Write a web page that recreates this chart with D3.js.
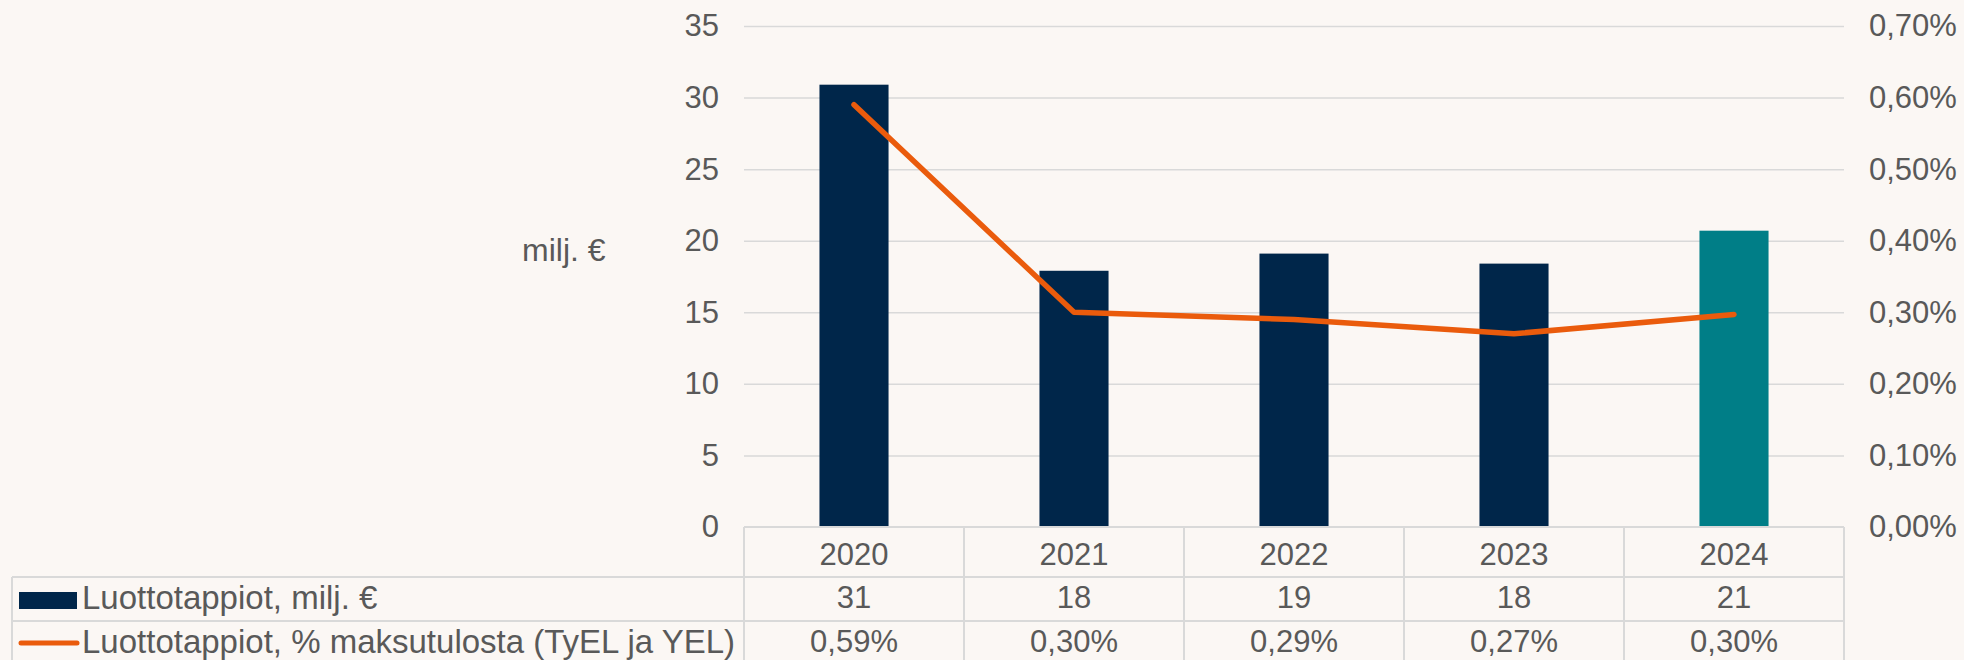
<!DOCTYPE html>
<html>
<head>
<meta charset="utf-8">
<script src="https://cdn.jsdelivr.net/npm/d3@7"></script>
<style>
  html, body { margin: 0; padding: 0; background: #fbf7f4; }
  svg { display: block; }
</style>
</head>
<body>
<div id="chart"></div>
<script>
// data
const years = ["2020", "2021", "2022", "2023", "2024"];
const losses = [30.9, 17.9, 19.1, 18.4, 20.7];          // milj. €
const lossShare = [0.59, 0.30, 0.29, 0.27, 0.297];      // % of premiums
const barColors = ["#00264a", "#00264a", "#00264a", "#00264a", "#007e87"];
const leftTicks = [0, 5, 10, 15, 20, 25, 30, 35];
const rightTicks = [0, 0.1, 0.2, 0.3, 0.4, 0.5, 0.6, 0.7];
const seriesNames = ["Luottotappiot, milj. €", "Luottotappiot, % maksutulosta (TyEL ja YEL)"];
const axisTitle = "milj. €";

function comboChart({ margin, height, width, selector }) {
    const fi = d3.formatLocale({ decimal: ",", thousands: " ", grouping: [3], currency: ["", " €"] });
    const fmtPct = v => fi.format(".2f")(v) + "%";
    const fmtInt = fi.format(".0f");

    const textColor = "#595959";
    const gridColor = "#d9d9d9";
    const fontSize = 31;

    let x = d3.scaleBand()
        .domain(years)
        .range([margin.left, width - margin.right])
        .paddingInner(0.686)
        .paddingOuter(0.343);

    let xCol = d3.scaleBand()
        .domain(years)
        .range([margin.left, width - margin.right]);

    let y = d3.scaleLinear()
        .domain([0, 35])
        .range([height - margin.bottom, margin.top]);

    let y2 = d3.scaleLinear()
        .domain([0, 0.7])
        .range([height - margin.bottom, margin.top]);

    const svg = d3.select(selector)
        .append("svg")
        .attr("width", width)
        .attr("height", height)
        .attr("font-family", "'Liberation Sans', Arial, sans-serif")
        .attr("font-size", fontSize);

    svg.append("rect")
        .attr("width", width)
        .attr("height", height)
        .attr("fill", "#fbf7f4");

    // gridlines
    svg.append("g")
        .attr("transform", `translate(${margin.left},0)`)
        .call(d3.axisRight(y).tickValues(leftTicks.slice(1)).tickSize(width - margin.left - margin.right).tickFormat(""))
        .call(g => g.select(".domain").remove())
        .call(g => g.selectAll(".tick line").attr("stroke", gridColor).attr("stroke-width", 1.5));

    // left axis labels
    svg.append("g")
        .attr("transform", `translate(${margin.left - 25},0)`)
        .call(d3.axisLeft(y).tickValues(leftTicks).tickSize(0).tickPadding(0))
        .call(g => g.select(".domain").remove())
        .call(g => g.selectAll("text").attr("fill", textColor).attr("font-size", fontSize).attr("font-family", null));

    // right axis labels
    svg.append("g")
        .attr("transform", `translate(${width - margin.right + 25},0)`)
        .call(d3.axisRight(y2).tickValues(rightTicks).tickSize(0).tickPadding(0).tickFormat(fmtPct))
        .call(g => g.select(".domain").remove())
        .call(g => g.selectAll("text").attr("fill", textColor).attr("font-size", fontSize).attr("font-family", null));

    svg.append("text")
        .attr("x", 522)
        .attr("y", 261)
        .attr("fill", textColor)
        .attr("font-size", 32)
        .text(axisTitle);

    // bars
    svg.append("g")
        .selectAll("rect")
        .data(losses)
        .join("rect")
        .attr("x", (d, i) => x(years[i]))
        .attr("y", d => y(d))
        .attr("width", x.bandwidth())
        .attr("height", d => y(0) - y(d))
        .attr("fill", (d, i) => barColors[i]);

    // line
    const line = d3.line()
        .x((d, i) => xCol(years[i]) + xCol.bandwidth() / 2)
        .y(d => y2(d));

    svg.append("path")
        .datum(lossShare)
        .attr("d", line)
        .attr("fill", "none")
        .attr("stroke", "#ea5b0c")
        .attr("stroke-width", 5.5)
        .attr("stroke-linejoin", "round")
        .attr("stroke-linecap", "round");

    // data table
    const top = y(0);
    const rows = [top, top + 50, top + 94, top + 140];
    const left = 12;
    const right = width - margin.right;
    const table = svg.append("g")
        .attr("stroke", gridColor)
        .attr("stroke-width", 2);

    table.append("line").attr("x1", margin.left).attr("x2", right).attr("y1", rows[0]).attr("y2", rows[0]);
    table.selectAll("line.h")
        .data(rows.slice(1))
        .join("line")
        .attr("class", "h")
        .attr("x1", left).attr("x2", right)
        .attr("y1", d => d).attr("y2", d => d);
    table.append("line").attr("x1", left).attr("x2", left).attr("y1", rows[1]).attr("y2", rows[3]);
    table.selectAll("line.v")
        .data(years.concat(["end"]))
        .join("line")
        .attr("class", "v")
        .attr("x1", d => d === "end" ? right : xCol(d))
        .attr("x2", d => d === "end" ? right : xCol(d))
        .attr("y1", rows[0]).attr("y2", rows[3]);

    const cells = svg.append("g")
        .attr("fill", textColor)
        .attr("text-anchor", "middle");

    cells.selectAll("text.year")
        .data(years)
        .join("text")
        .attr("class", "year")
        .attr("x", d => xCol(d) + xCol.bandwidth() / 2)
        .attr("y", top + 38)
        .text(d => d);

    cells.selectAll("text.loss")
        .data(losses)
        .join("text")
        .attr("class", "loss")
        .attr("x", (d, i) => xCol(years[i]) + xCol.bandwidth() / 2)
        .attr("y", top + 81)
        .text(d => fmtInt(d));

    cells.selectAll("text.pct")
        .data(lossShare)
        .join("text")
        .attr("class", "pct")
        .attr("x", (d, i) => xCol(years[i]) + xCol.bandwidth() / 2)
        .attr("y", top + 125)
        .text(d => fmtPct(d));

    // legend keys in the table
    svg.append("rect")
        .attr("x", 19)
        .attr("y", top + 65)
        .attr("width", 58)
        .attr("height", 17)
        .attr("fill", barColors[0]);

    svg.append("line")
        .attr("x1", 21).attr("x2", 77)
        .attr("y1", top + 116).attr("y2", top + 116)
        .attr("stroke", "#ea5b0c")
        .attr("stroke-width", 5)
        .attr("stroke-linecap", "round");

    svg.append("g")
        .attr("fill", textColor)
        .attr("font-size", 33)
        .selectAll("text")
        .data(seriesNames)
        .join("text")
        .attr("x", 82)
        .attr("y", (d, i) => top + 82 + i * 44)
        .text(d => d);
}

comboChart({
    margin: { top: 26, right: 120, bottom: 133, left: 744 },
    height: 660,
    width: 1964,
    selector: "#chart"
});
</script>
</body>
</html>
